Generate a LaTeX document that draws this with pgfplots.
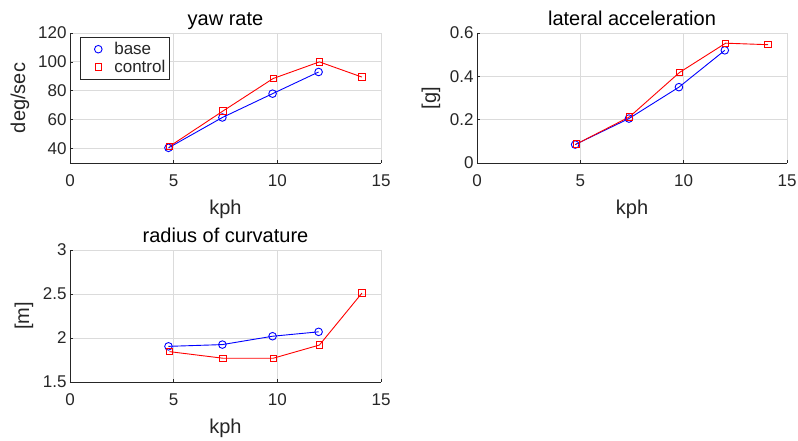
\documentclass[border=0pt]{standalone}
\usepackage{pgfplots}
\pgfplotsset{compat=1.18}
\usepackage{fontspec}
\setmainfont{Liberation Sans}
\definecolor{axgray}{rgb}{0.15,0.15,0.15}
\definecolor{gridgray}{rgb}{0.86,0.86,0.86}
\pgfplotsset{
  mstyle/.style={
    scale only axis,
    anchor=south west,
    xmin=0, xmax=15, xtick={0,5,10,15},
    axis x line*=bottom, axis y line*=left,
    axis line style={axgray, line width=0.8pt},
    tick style={axgray, line width=0.6pt},
    tick align=inside, major tick length=3pt,
    grid=major,
    major grid style={gridgray, line width=0.8pt},
    /pgf/number format/assume math mode=true,
    ticklabel style={font=\fontsize{17}{20}\selectfont, text=axgray},
    xticklabel style={yshift=-8pt},
    label style={font=\fontsize{20}{24}\selectfont, text=axgray},
    title style={font=\fontsize{20}{24}\selectfont, text=black, at={(axis description cs:0.5,1)}, anchor=base, yshift=1.5pt},
    xlabel={kph},
    xlabel style={at={(axis description cs:0.5,0)}, anchor=north, yshift=-33pt},
    clip=false,
  },
  mleg/.style={legend image code/.code={\path[draw=none,fill=none] (0pt,0pt) -- (30pt,0pt); \draw[##1] plot coordinates {(16pt,0pt)};}},
  base/.style={blue, line width=0.9pt, mark=o, mark size=3.8pt, mark options={line width=0.9pt}, mleg},
  ctrl/.style={red, line width=0.9pt, mark=square, mark size=3.2pt, mark options={line width=0.9pt}, mleg},
}
\begin{document}
\begin{tikzpicture}[x=1pt,y=1pt]
\useasboundingbox (0,0) rectangle (798,441);
% yaw rate
\begin{axis}[mstyle, at={(70pt,278pt)}, width=311pt, height=130pt,
  ymin=30, ymax=120, ytick={40,60,80,100,120},
  title={yaw rate}, ylabel={deg/sec},
  ylabel style={at={(axis description cs:0,0.5)}, anchor=center, yshift=50pt},
  legend style={at={(axis description cs:0,1)}, anchor=north west, xshift=10pt, yshift=-4pt,
    draw=axgray, line width=0.6pt, font=\fontsize{17}{20}\selectfont, text=axgray,
    inner xsep=2pt, inner ysep=3pt, row sep=0pt},
  legend cell align=left,
]
\addplot[base] coordinates {(4.75,40.5) (7.35,61.5) (9.77,78) (11.99,93)};
\addlegendentry{base}
\addplot[ctrl] coordinates {(4.8,41.5) (7.38,66) (9.8,88.5) (12.03,100) (14.08,89.5)};
\addlegendentry{control}
\end{axis}
% lateral acceleration
\begin{axis}[mstyle, at={(477pt,278pt)}, width=310pt, height=130pt,
  ymin=0, ymax=0.6, ytick={0,0.2,0.4,0.6},
  yticklabels={0,0.2,0.4,0.6},
  title={lateral acceleration}, ylabel={[g]},
  ylabel style={at={(axis description cs:0,0.5)}, anchor=center, yshift=46pt},
]
\addplot[base] coordinates {(4.75,0.085) (7.35,0.205) (9.77,0.35) (11.99,0.52)};
\addplot[ctrl] coordinates {(4.8,0.087) (7.38,0.213) (9.8,0.418) (12.03,0.553) (14.08,0.546)};
\end{axis}
% radius of curvature
\begin{axis}[mstyle, at={(70pt,59pt)}, width=311pt, height=132pt,
  ymin=1.5, ymax=3, ytick={1.5,2,2.5,3},
  yticklabels={1.5,2,2.5,3},
  title={radius of curvature}, ylabel={[m]},
  ylabel style={at={(axis description cs:0,0.5)}, anchor=center, yshift=46pt},
]
\addplot[base] coordinates {(4.75,1.905) (7.35,1.925) (9.77,2.02) (11.99,2.07)};
\addplot[ctrl] coordinates {(4.8,1.845) (7.38,1.77) (9.8,1.77) (12.03,1.92) (14.08,2.51)};
\end{axis}
\end{tikzpicture}
\end{document}
